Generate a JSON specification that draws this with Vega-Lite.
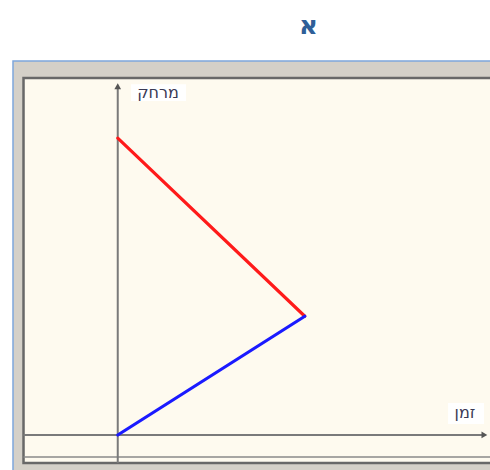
{
  "$schema": "https://vega.github.io/schema/vega-lite/v6.json",
  "width": 477,
  "height": 409,
  "autosize": "none",
  "padding": {"left": 13, "top": 61, "right": 0, "bottom": 0},
  "background": "white",
  "config": {"view": {"stroke": null}},
  "title": {
    "text": "א",
    "font": "DejaVu Sans",
    "fontSize": 26,
    "fontWeight": "bold",
    "color": "#2f5f98",
    "anchor": "middle",
    "dx": 57,
    "offset": 21
  },
  "datasets": {
    "frame": [{"t": -2.8, "t2": 11, "d": -2, "d2": 12.6}],
    "panel": [{"t": -2.519, "t2": 11, "d": -0.943, "d2": 12.03}],
    "baseline": [{"t": -2.519, "t2": 11, "d": -0.741, "d2": -0.741}],
    "axes": [
      {"axis": "distance", "t": 0, "t2": 0, "d": -0.943, "d2": 11.75},
      {"axis": "time", "t": -2.519, "t2": 9.8, "d": 0, "d2": 0}
    ],
    "boxes": [
      {"t": 0.356, "t2": 1.825, "d": 11.25, "d2": 11.82},
      {"t": 8.83, "t2": 9.79, "d": 0.37, "d2": 1.08}
    ],
    "labels": [
      {"t": 1.076, "d": 11.52, "label": "מרחק"},
      {"t": 9.28, "d": 0.741, "label": "זמן"}
    ],
    "motion": [
      {"series": "A", "t": 0, "d": 10},
      {"series": "A", "t": 5, "d": 4},
      {"series": "B", "t": 0, "d": 0},
      {"series": "B", "t": 5, "d": 4}
    ]
  },
  "encoding": {
    "x": {"field": "t", "type": "quantitative", "scale": {"domain": [-2.8, 9.95], "nice": false, "zero": false}, "axis": null},
    "y": {"field": "d", "type": "quantitative", "scale": {"domain": [-1.18, 12.6], "nice": false, "zero": false}, "axis": null}
  },
  "layer": [
    {
      "data": {"name": "frame"},
      "mark": {"type": "rect", "fill": "#d4d0c8", "stroke": "#7ea6dc", "strokeWidth": 1.5},
      "encoding": {"x2": {"field": "t2"}, "y2": {"field": "d2"}}
    },
    {
      "data": {"name": "panel"},
      "mark": {"type": "rect", "fill": "#fefaef", "stroke": "#686868", "strokeWidth": 2.5},
      "encoding": {"x2": {"field": "t2"}, "y2": {"field": "d2"}}
    },
    {
      "data": {"name": "baseline"},
      "mark": {"type": "rule", "color": "#8a8a8a", "strokeWidth": 1.5},
      "encoding": {"x2": {"field": "t2"}, "y2": {"field": "d2"}}
    },
    {
      "data": {"name": "axes"},
      "mark": {"type": "rule", "color": "#7a7a7a", "strokeWidth": 2},
      "encoding": {"x2": {"field": "t2"}, "y2": {"field": "d2"}}
    },
    {
      "data": {"name": "axes"},
      "transform": [{"filter": "datum.axis === 'distance'"}],
      "mark": {"type": "point", "shape": "triangle-up", "filled": true, "color": "#555555", "size": 45, "opacity": 1},
      "encoding": {"y": {"field": "d2", "type": "quantitative"}}
    },
    {
      "data": {"name": "axes"},
      "transform": [{"filter": "datum.axis === 'time'"}],
      "mark": {"type": "point", "shape": "triangle-right", "filled": true, "color": "#555555", "size": 45, "opacity": 1},
      "encoding": {"x": {"field": "t2", "type": "quantitative"}}
    },
    {
      "data": {"name": "boxes"},
      "mark": {"type": "rect", "fill": "#ffffff"},
      "encoding": {"x2": {"field": "t2"}, "y2": {"field": "d2"}}
    },
    {
      "data": {"name": "labels"},
      "mark": {"type": "text", "font": "DejaVu Sans", "fontSize": 16, "color": "#3a3a55", "align": "center", "baseline": "middle"},
      "encoding": {"text": {"field": "label"}}
    },
    {
      "data": {"name": "motion"},
      "mark": {"type": "line", "strokeWidth": 3.2, "strokeCap": "round"},
      "encoding": {
        "color": {"field": "series", "type": "nominal", "scale": {"domain": ["A", "B"], "range": ["#ff1a1a", "#1a1aff"]}, "legend": null},
        "order": {"field": "t", "type": "quantitative"}
      }
    }
  ]
}
